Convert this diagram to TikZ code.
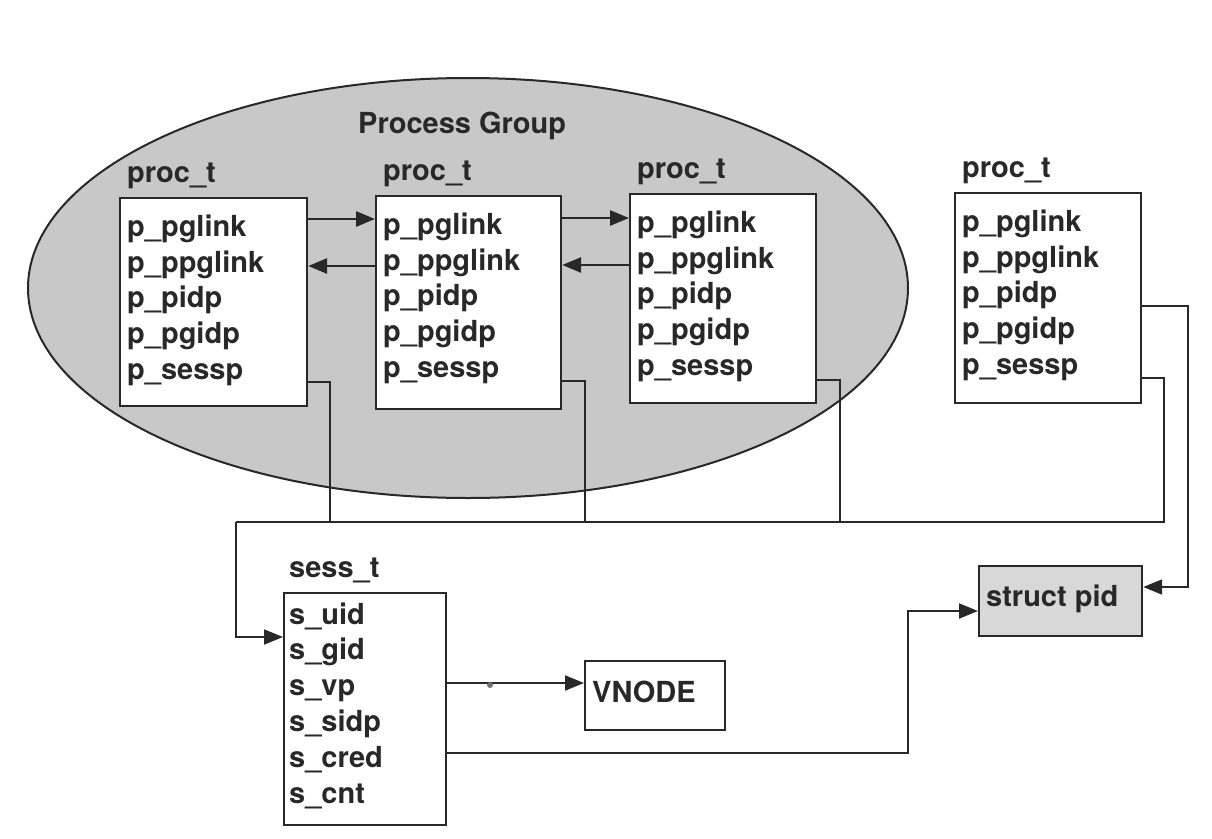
\documentclass[tikz,border=0pt]{standalone}
\usepackage{fontspec}
\setmainfont{TeX Gyre Heros}
\usetikzlibrary{arrows.meta,calc}
\definecolor{ellgray}{RGB}{200,200,200}
\definecolor{pidgray}{RGB}{216,216,216}
\definecolor{ink}{RGB}{40,40,40}
% #1 name, #2 left x, #3 top y, #4 width, #5 height
\newcommand\procbox[5]{%
  \node[box, anchor=north west, minimum width=#4pt, minimum height=#5pt] (#1) at (#2,#3) {};
  \node[fld] (#1t) at ({#2+8},{#3-15}) {proc\_t};
  \foreach \t [count=\k] in {p\_pglink,p\_ppglink,p\_pidp,p\_pgidp,p\_sessp}
    \node[fld] (#1f\k) at ({#2+8},{#3+39.5+35.7*(\k-1)}) {\t};
}
\begin{document}
\begin{tikzpicture}[x=1pt,y=-1pt,
  every node/.style={font=\fontsize{29}{32}\selectfont\bfseries, inner sep=0pt, text=ink},
  box/.style={draw=ink, line width=2.2pt, fill=white},
  fld/.style={anchor=base west},
  conn/.style={draw=ink, line width=1.9pt},
  arr/.style={conn, -{Triangle[length=19pt,width=15pt]}},
  harr/.style={arr, line width=2.8pt},
]
\useasboundingbox (0,0) rectangle (1212,838);
% process group
\draw[ink, fill=ellgray, line width=2pt] (468,288) ellipse [x radius=440pt, y radius=210pt];
\node[fld] (pg) at (358,133) {Process Group};
% proc_t boxes
\procbox{b1}{119}{197}{187}{208}
\procbox{b2}{375}{195}{185}{213}
\procbox{b3}{629}{193}{186}{209}
\procbox{b4}{954}{192}{186}{210}
% links between group members
\coordinate (l12) at ($(b1.north east)+(0,22)$);
\coordinate (l21) at ($(b2.north west)+(0,71)$);
\coordinate (l23) at ($(b2.north east)+(0,23)$);
\coordinate (l32) at ($(b3.north west)+(0,72)$);
\draw[harr] (l12) -- (l12 -| b2.west);
\draw[harr] (l21) -- (l21 -| b1.east);
\draw[harr] (l23) -- (l23 -| b3.west);
\draw[harr] (l32) -- (l32 -| b2.east);
% session bus
\coordinate (busL) at (236,522);
\draw[conn] ($(b1.north east)+(0,185)$) -- ++(22,0) |- (busL);
\draw[conn] ($(b2.north east)+(0,186)$) -- ++(23,0) |- (busL);
\draw[conn] ($(b3.north east)+(0,187)$) -- ++(23,0) |- (busL);
\draw[conn] ($(b4.north east)+(0,186)$) -- ++(22,0) |- (busL);
% sess_t
\node[box, anchor=north west, minimum width=162pt, minimum height=232pt] (ss) at (283,592) {};
\node[fld] (sst) at (289,577) {sess\_t};
\foreach \t [count=\k] in {s\_uid,s\_gid,s\_vp,s\_sidp,s\_cred,s\_cnt}
  \node[fld] (ssf\k) at (289,{624+35.8*(\k-1)}) {\t};
\draw[arr] (busL) |- ($(ss.north west)+(0,45)$);
% vnode
\node[draw=ink, line width=2.2pt, anchor=north west, minimum width=140pt, minimum height=69pt] (vn) at (584,660) {};
\node[fld] (vnt) at (592,702) {VNODE};
\coordinate (vp) at ($(ss.north east)+(0,91)$);
\draw[arr] (vp) -- (vp -| vn.west);
\fill[black!55] (490,685) circle (3pt);
% struct pid
\node[draw=ink, line width=2.2pt, fill=pidgray, anchor=north west, minimum width=163pt, minimum height=70pt] (sp) at (978,565) {};
\node[fld] (spt) at (986,606) {struct pid};
\draw[arr] ($(b4.north east)+(0,114)$) -- ++(46,0) |- ($(sp.north east)+(0,22)$);
\draw[arr] ($(ss.north east)+(0,161)$) -| ($(sp.north west)+(-70,46)$) -- ($(sp.north west)+(0,46)$);
\end{tikzpicture}
\end{document}
